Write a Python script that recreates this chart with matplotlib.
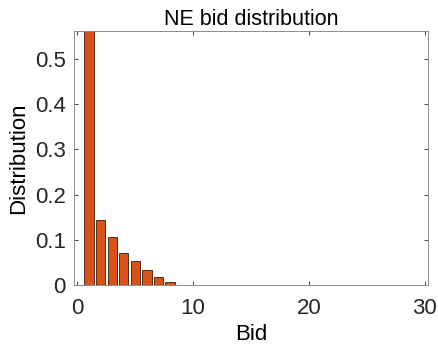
import matplotlib
matplotlib.use("Agg")
import matplotlib.pyplot as plt

bids = [1, 2, 3, 4, 5, 6, 7, 8]
dist = [0.568, 0.144, 0.106, 0.071, 0.053, 0.033, 0.018, 0.007]
xticks = [0, 10, 20, 30]
yticks = [0, 0.1, 0.2, 0.3, 0.4, 0.5]
ytick_labels = ["0", "0.1", "0.2", "0.3", "0.4", "0.5"]

plt.rcParams["font.family"] = ["Liberation Sans", "DejaVu Sans"]

fig = plt.figure(figsize=(4.39, 3.52), dpi=100)
ax = fig.add_axes([74 / 439, 1 - 285 / 352, 354 / 439, 254 / 352])

ax.bar(bids, dist, width=0.8, color="#D95319", edgecolor="#3a1a08", linewidth=0.6)

ax.set_xlim(-0.3, 30.3)
ax.set_ylim(0, 0.562)
ax.set_xticks(xticks)
ax.set_yticks(yticks)
ax.set_yticklabels(ytick_labels)
ax.tick_params(direction="in", length=3, width=0.6, top=True, right=True,
               labelsize=16, colors="#262626")
ax.tick_params(axis="x", pad=9)
ax.tick_params(axis="y", pad=6)
for s in ax.spines.values():
    s.set_color("#8c8c8c")
    s.set_linewidth(0.7)

ax.set_title("NE bid distribution", fontsize=15.5, pad=4)
ax.set_xlabel("Bid", fontsize=16, labelpad=4)
ax.set_ylabel("Distribution", fontsize=16, labelpad=4)

fig.savefig("out.png", dpi=100, facecolor="white")
